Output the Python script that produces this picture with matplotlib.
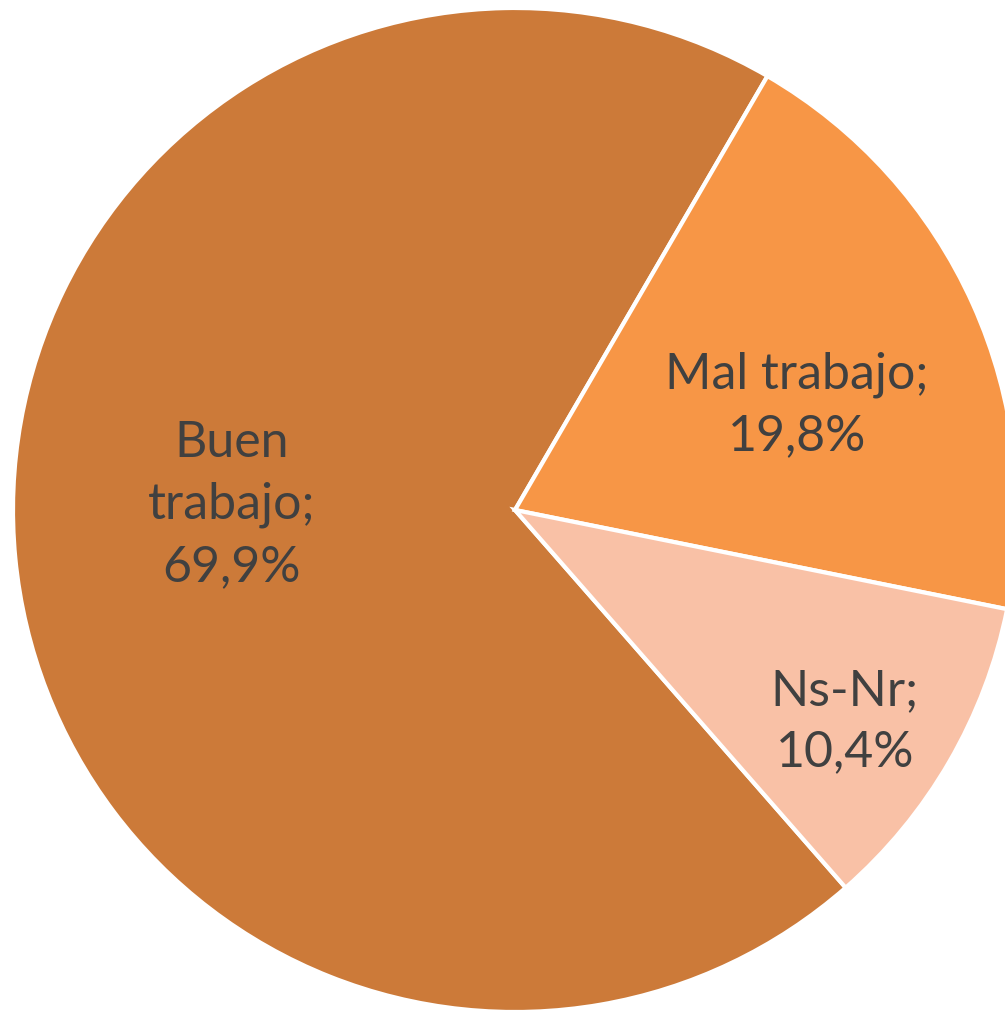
import matplotlib.pyplot as plt

# data
categories = ['Buen trabajo', 'Mal trabajo', 'Ns-Nr']
values = [69.9, 19.8, 10.4]
label_text = ['Buen\ntrabajo;\n69,9%', 'Mal trabajo;\n19,8%', 'Ns-Nr;\n10,4%']
colors = ['#CC7A39', '#F79646', '#F9C1A6']

# label positions (fraction of radius)
label_pos = [(-0.565, 0.01), (0.561, 0.209), (0.657, -0.422)]

fig = plt.figure(figsize=(10.05, 10.10), dpi=100)
ax = fig.add_axes([0, 0, 1, 1])
ax.axis('off')

r_px = 502.
cx, cy = 515., 510.

wedges, _ = ax.pie(values, colors=colors, startangle=-48.8, counterclock=False,
                   radius=1.0, wedgeprops=dict(edgecolor='white', linewidth=3))

for txt, (x, y) in zip(label_text, label_pos):
    ax.text(x, y, txt, ha='center', va='center', fontsize=36, family='Lato',
            color='#404040', linespacing=1.42)

ax.set_aspect('auto')
ax.set_xlim(-cx / r_px, (1005 - cx) / r_px)
ax.set_ylim(-(1010 - cy) / r_px, cy / r_px)

fig.savefig('out.png', dpi=100, facecolor='white')
